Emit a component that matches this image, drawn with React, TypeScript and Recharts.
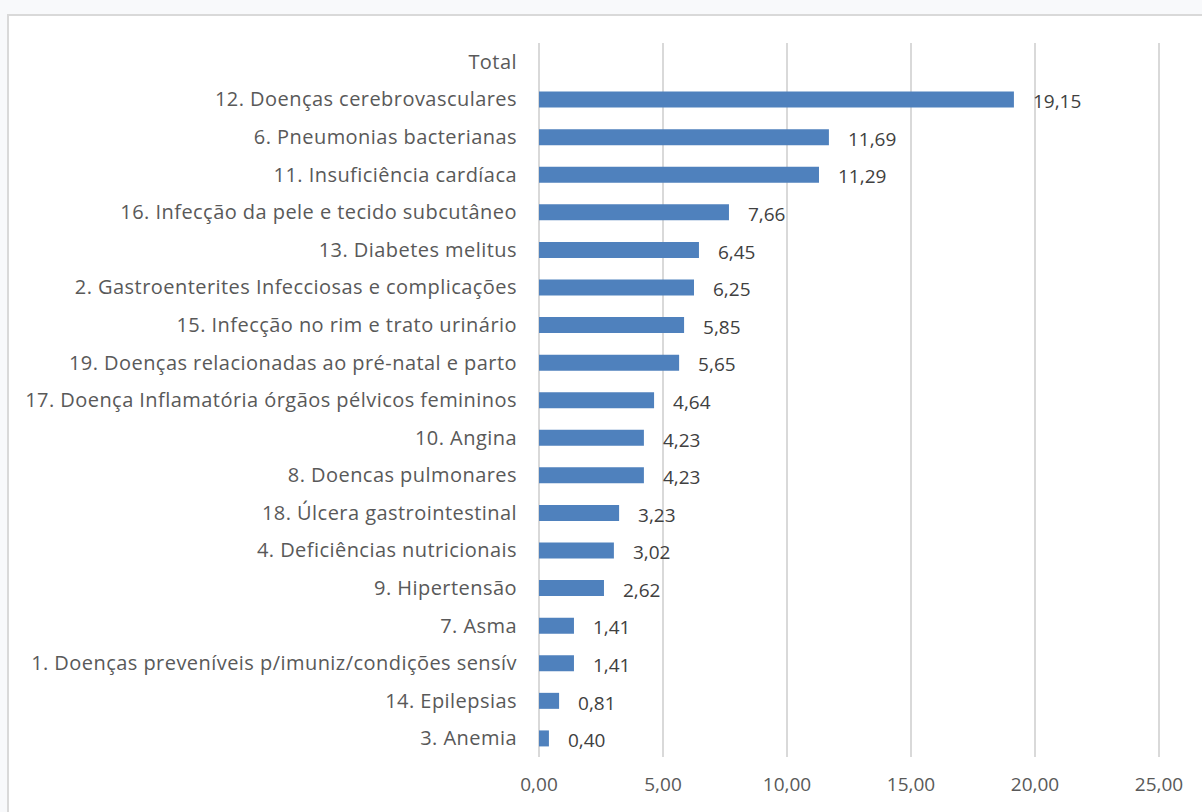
import { BarChart, Bar, XAxis, YAxis, CartesianGrid, LabelList } from 'recharts';

const categories = [
  'Total',
  '12. Doenças cerebrovasculares',
  '6. Pneumonias bacterianas',
  '11. Insuficiência cardíaca',
  '16. Infecção da pele e tecido subcutâneo',
  '13. Diabetes melitus',
  '2. Gastroenterites Infecciosas e complicações',
  '15. Infecção no rim e trato urinário',
  '19. Doenças relacionadas ao pré-natal e parto',
  '17. Doença Inflamatória órgãos pélvicos femininos',
  '10. Angina',
  '8. Doencas pulmonares',
  '18. Úlcera gastrointestinal',
  '4. Deficiências nutricionais',
  '9. Hipertensão',
  '7. Asma',
  '1. Doenças preveníveis p/imuniz/condições sensív',
  '14. Epilepsias',
  '3. Anemia'
];

const values: (number | null)[] = [
  null, 19.15, 11.69, 11.29, 7.66, 6.45, 6.25, 5.85, 5.65, 4.64, 4.23, 4.23, 3.23, 3.02, 2.62, 1.41, 1.41, 0.81, 0.4
];

const xTicks = [0, 5, 10, 15, 20, 25];

const data = categories.map((name, i) => ({ name, value: values[i] }));

const fmt = (v: any) => (v === null || v === undefined ? '' : Number(v).toFixed(2).replace('.', ','));

const FONT = '"Open Sans", "Noto Sans", sans-serif';

export default function App() {
  return (
    <div style={{ position: 'absolute', left: 0, top: 0, width: 1202, height: 812, background: '#f8f9fb', overflow: 'hidden' }}>
      <div
        style={{
          position: 'absolute',
          left: 7,
          top: 14,
          width: 1210,
          height: 820,
          background: '#fff',
          border: '2px solid #d9d9d9',
          boxSizing: 'border-box'
        }}
      />
      <div style={{ position: 'absolute', left: 0, top: 0 }}>
        <BarChart
          width={1202}
          height={812}
          data={data}
          layout="vertical"
          margin={{ top: 43, right: 43, left: 0, bottom: 0 }}
          barSize={16}
        >
          <CartesianGrid horizontal={false} stroke="#d9d9d9" strokeWidth={2} />
          <XAxis
            type="number"
            domain={[0, 25]}
            ticks={xTicks}
            tickFormatter={fmt}
            axisLine={false}
            tickLine={false}
            tickMargin={15}
            tick={{ fill: '#595959', fontSize: 19, fontFamily: FONT }}
            height={55}
          />
          <YAxis
            type="category"
            dataKey="name"
            width={539}
            axisLine={false}
            tickLine={false}
            tickSize={0}
            tickMargin={22}
            interval={0}
            tick={{ fill: '#595959', fontSize: 20, fontFamily: FONT, letterSpacing: 0.45 }}
          />
          <Bar dataKey="value" fill="#4f81bd" isAnimationActive={false}>
            <LabelList
              dataKey="value"
              position="right"
              offset={19}
              formatter={fmt}
              style={{ fill: '#404040', fontSize: 19, fontFamily: FONT }}
              dy={2}
            />
          </Bar>
        </BarChart>
      </div>
    </div>
  );
}
